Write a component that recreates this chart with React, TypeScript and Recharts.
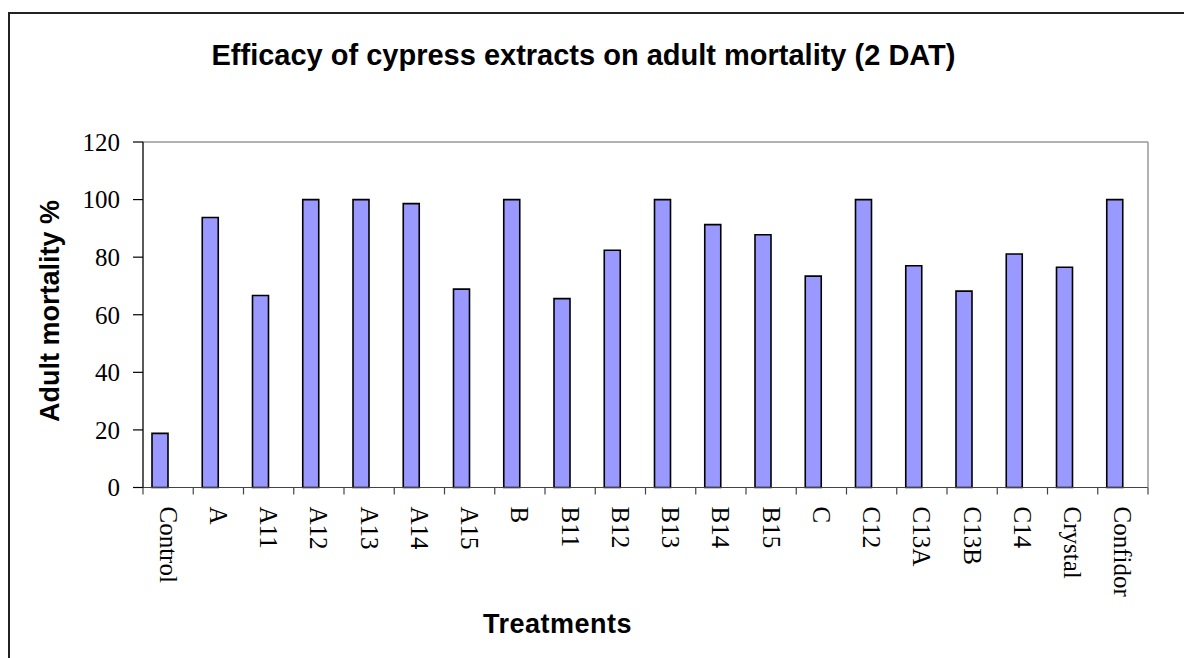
import { BarChart, Bar, XAxis, YAxis, ReferenceLine } from "recharts";

const treatments = [
  "Control", "A", "A11", "A12", "A13", "A14", "A15", "B", "B11", "B12",
  "B13", "B14", "B15", "C", "C12", "C13A", "C13B", "C14", "Crystal", "Confidor",
];
const mortality = [
  18.8, 93.8, 66.7, 100, 100, 98.6, 68.9, 100, 65.6, 82.4,
  100, 91.3, 87.8, 73.4, 100, 77.0, 68.2, 81.1, 76.5, 100,
];
const yTicks = [0, 20, 40, 60, 80, 100, 120];

const chartData = treatments.map((name, i) => ({ name, mortality: mortality[i] }));

const TICK_SIZE = 7;
const TICK_MARGIN = 12;

function TreatmentTick(props: any) {
  const { x, y, payload, index, visibleTicksCount } = props;
  const half = payload?.offset ?? 25.125;
  const top = y - TICK_SIZE - TICK_MARGIN;
  const bottom = y - TICK_MARGIN;
  return (
    <g>
      <line x1={x - half} x2={x - half} y1={top} y2={bottom} stroke="#444" strokeWidth={1.2} />
      {index === visibleTicksCount - 1 && (
        <line x1={x + half} x2={x + half} y1={top} y2={bottom} stroke="#444" strokeWidth={1.2} />
      )}
      <text
        x={x}
        y={y}
        transform={`rotate(90, ${x}, ${y})`}
        textAnchor="start"
        dominantBaseline="central"
        fontFamily="'Liberation Serif', 'Times New Roman', serif"
        fontSize={25}
        fill="#000"
      >
        {payload.value}
      </text>
    </g>
  );
}

export default function App() {
  return (
    <div
      style={{
        position: "fixed",
        left: 0,
        top: 0,
        width: 1184,
        height: 658,
        overflow: "hidden",
        background: "#fff",
      }}
    >
      <div
        style={{
          position: "absolute",
          left: 8,
          top: 12,
          width: 1300,
          height: 800,
          border: "2px solid #222",
        }}
      />
      <div style={{ position: "absolute", left: 0, top: 0 }}>
        <BarChart
          width={1184}
          height={658}
          data={chartData}
          margin={{ top: 142, right: 0, bottom: 0, left: 0 }}
          barGap={0}
        >
          <XAxis
            dataKey="name"
            interval={0}
            height={170.5}
            tickSize={TICK_SIZE}
            tickMargin={TICK_MARGIN}
            tickLine={false}
            axisLine={{ stroke: "#444", strokeWidth: 1.2 }}
            tick={<TreatmentTick />}
          />
          <YAxis
            yAxisId="l"
            width={143}
            domain={[0, 120]}
            ticks={yTicks}
            interval={0}
            tickSize={10}
            tickMargin={13}
            axisLine={{ stroke: "#000", strokeWidth: 1.3 }}
            tickLine={{ stroke: "#000", strokeWidth: 1.2 }}
            tick={{
              fill: "#000",
              fontSize: 25,
              fontFamily: "'Liberation Serif', 'Times New Roman', serif",
            }}
          />
          <YAxis
            yAxisId="r"
            orientation="right"
            width={36}
            domain={[0, 120]}
            tick={false}
            tickLine={false}
            axisLine={{ stroke: "#999", strokeWidth: 1.5 }}
          />
          <ReferenceLine yAxisId="l" y={120} stroke="#999" strokeWidth={1.5} />
          <Bar
            yAxisId="l"
            dataKey="mortality"
            fill="#9999FF"
            stroke="#000"
            strokeWidth={1.6}
            barSize={16}
            isAnimationActive={false}
          />
          <Bar
            yAxisId="l"
            dataKey="blank"
            fill="none"
            stroke="none"
            barSize={16}
            isAnimationActive={false}
          />
        </BarChart>
      </div>
      <svg
        width={1184}
        height={658}
        style={{ position: "absolute", left: 0, top: 0, pointerEvents: "none" }}
      >
        <text
          x={583.5}
          y={65}
          textAnchor="middle"
          fontFamily="'Liberation Sans', Arial, sans-serif"
          fontWeight="bold"
          fontSize={29}
          fill="#000"
        >
          Efficacy of cypress extracts on adult mortality (2 DAT)
        </text>
        <text
          x={557.5}
          y={633}
          textAnchor="middle"
          fontFamily="'Liberation Sans', Arial, sans-serif"
          fontWeight="bold"
          fontSize={27}
          letterSpacing={0.5}
          fill="#000"
        >
          Treatments
        </text>
        <text
          x={50}
          y={311}
          transform="rotate(-90, 50, 311)"
          textAnchor="middle"
          dominantBaseline="central"
          fontFamily="'Liberation Sans', Arial, sans-serif"
          fontWeight="bold"
          fontSize={27}
          fill="#000"
        >
          Adult mortality %
        </text>
      </svg>
    </div>
  );
}
